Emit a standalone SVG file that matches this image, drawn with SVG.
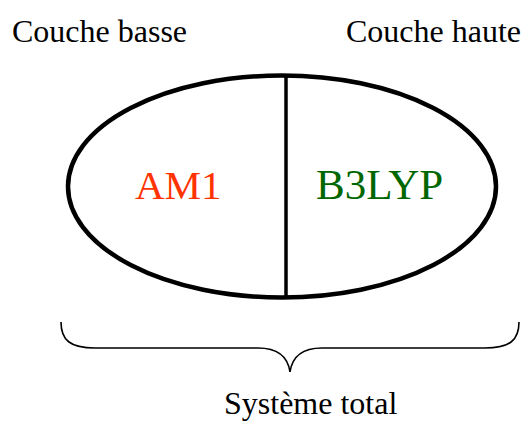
<svg xmlns="http://www.w3.org/2000/svg" width="525" height="421" viewBox="0 0 525 421">
<style>
.t{font-family:"Liberation Serif","Times New Roman",serif;font-size:32px;fill:#000}
.big{font-family:"Liberation Serif","Times New Roman",serif;font-size:41px}
</style>
<rect width="525" height="421" fill="#fff"/>
<g id="couche-basse"><text class="t" x="12" y="42">Couche basse</text></g>
<g id="couche-haute"><text class="t" x="521" y="42" text-anchor="end">Couche haute</text></g>
<g id="systeme">
<ellipse cx="282" cy="186.5" rx="214" ry="111" fill="none" stroke="#000" stroke-width="4.5"/>
</g>
<g id="connectors">
<line x1="286" y1="75" x2="286" y2="298" stroke="#000" stroke-width="3.5"/>
<path d="M61,322 C61,340 70,348 95,348 L258,348 C280,348 288,358 290,372 C292,358 300,348 322,348 L485,348 C510,348 519,340 519,322" fill="none" stroke="#000" stroke-width="1.6"/>
</g>
<g id="am1"><text class="big" x="135" y="199" fill="#FF3300">AM1</text></g>
<g id="b3lyp"><text class="big" x="316" y="199" fill="#006600" style="font-size:43px">B3LYP</text></g>
<g id="total"><text class="t" x="224" y="414">Système total</text></g>
</svg>
